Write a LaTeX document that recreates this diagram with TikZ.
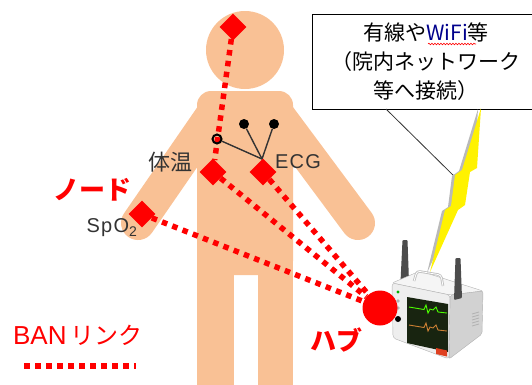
\documentclass[tikz,border=0pt]{standalone}
\usepackage{fontspec}
\setmainfont{Liberation Sans}
\newfontfamily\jpfont{Noto Sans CJK JP}
\usetikzlibrary{shapes.geometric}
\usetikzlibrary{decorations.pathmorphing}
\definecolor{skin}{RGB}{249,193,149}
\definecolor{scr}{RGB}{24,36,16}
\tikzset{
    sensor/.style = {diamond, fill=red, inner sep=0pt, minimum size=27pt},
    hubnode/.style = {circle, fill=red, inner sep=0pt, minimum size=35pt},
    banlink/.style = {red, line width=5.5pt, dash pattern=on 5.5pt off 5.5pt},
    lead/.style = {line width=1.4pt, black!80},
    electrode/.style = {circle, fill=black, inner sep=0pt, minimum size=10pt},
    electrodeo/.style = {circle, draw=black, line width=2pt, inner sep=0pt, minimum size=9pt},
    limb/.style = {skin, line width=34pt, line cap=round},
    lbl/.style = {text=black!80, font=\fontsize{20}{22}\selectfont\addfontfeature{LetterSpace=6}},
    jlbl/.style = {text=black!80, font=\jpfont\fontsize{22}{24}\selectfont},
    redlbl/.style = {text=red, font=\jpfont\bfseries\fontsize{26}{30}\selectfont},
    infobox/.style = {draw=black, line width=1.5pt, fill=white, minimum width=227pt, minimum height=95pt,
                      align=center, font=\jpfont\fontsize{21}{29}\selectfont},
    antenna/.style = {fill=black!70, rounded corners=1pt},
    face/.style = {draw=gray!60, rounded corners=2pt},
}

\begin{document}
\begin{tikzpicture}[x=1pt,y=-1pt]
\useasboundingbox (0,0) rectangle (532,384);
% body
\fill[skin] (245,50) circle (39);
\fill[skin, rounded corners=14pt] (197,91) rectangle (293,275);
\fill[skin] (197,200) rectangle (234,390);
\fill[skin] (258,200) rectangle (293,390);
\draw[limb] (216,110) -- (138,223);
\draw[limb] (274,110) -- (358,223);
%
% monitor
\fill[antenna] (400.5,282) -- (402.5,240) -- (407.5,240) -- (409,282) -- cycle;
\filldraw[face, fill=gray!8] (392,283) -- (420,271) -- (483,291) -- (450,295) -- cycle;
\filldraw[face, fill=gray!35] (450,295) -- (483,291) -- (482,334) -- (449,359) -- cycle;
\filldraw[face, fill=gray!13, rounded corners=3pt] (392,283) -- (450,295) -- (449,359) -- (393,338) -- cycle;
\draw[gray!50, line width=2.5pt, rounded corners=3pt] (414,281) -- (417,271) -- (441,275) -- (443,286);
\draw[white, line width=0.8pt, rounded corners=3pt] (414,281) -- (417,271) -- (441,275) -- (443,286);
\fill[antenna] (454,300) -- (455.5,258) -- (460.5,258) -- (462,298) -- cycle;
\fill[scr] (407,297) -- (448,304) -- (448,352) -- (407,343) -- cycle;
\draw[green!70!yellow, line width=0.9pt] (409,307) -- (424,309.5) -- (426,305) -- (428,313) -- (430,309)
    -- (433,310) -- (436,307) -- (438,312) -- (447,313);
\draw[brown!80!orange, line width=0.9pt] (409,325) -- (424,327.5) -- (426,323) -- (428,331) -- (430,327)
    -- (433,328) -- (436,325) -- (438,330) -- (447,331);
\fill[green!70!black] (398,292) circle (1.6);
\fill[gray!60] (398,301) circle (1.8);
\fill[gray!60] (398,308) circle (1.8);
\fill[black] (398,319) circle (3);
\fill[red!50!brown] (436,348) -- (447,350.5) -- (447,356.5) -- (436,354) -- cycle;
\foreach \k in {0,...,4}
    \draw[gray!60, line width=0.8pt] (472,{314+3*\k}) -- (479,{312+3*\k});
%
% sensors and hub
\node[sensor] at (233,27) (hd) {};
\node[sensor] at (213,172) (tmp) {};
\node[sensor] at (263,172) (ecg) {};
\node[sensor] at (142,214) (spo) {};
\node[hubnode] at (380,308) (hub) {};
\draw[banlink] (hd) -- (tmp);
\draw[banlink] (tmp) -- (hub);
\draw[banlink] (ecg) -- (hub);
\draw[banlink] (spo) -- (hub);
%
% ECG electrodes
\node[electrode] at (244,124) (e1) {};
\node[electrode] at (274,124) (e2) {};
\node[electrodeo] at (217,139) (e3) {};
\coordinate (jn) at (262,159);
\draw[lead] (e1) -- (jn);
\draw[lead] (e2) -- (jn);
\draw[lead] (e3) -- (jn);
%
% labels
\node[jlbl] at (170,162) (tl) {体温};
\node[lbl] at (298,162) (el) {ECG};
\node[lbl] at (112,228) (sl) {SpO\textsubscript{2}};
\node[redlbl] at (92,190) (nl) {ノード};
\node[redlbl] at (336,340) (hl) {ハブ};
\node[text=red, font=\fontsize{26}{30}\selectfont] at (78,335) (bl) {BAN\,{\jpfont\fontsize{24}{30}\selectfont リンク}};
\coordinate (la) at (24,366);
\coordinate (lb) at (136,366);
\draw[banlink] (la) -- (lb);
%
% uplink
\node[infobox] at (426,62) (box) {有線や{\color{blue!55!black}WiFi}等\\（院内ネットワーク\\等へ接続）};
\draw[red, line width=0.6pt, decorate, decoration={snake, amplitude=0.8pt, segment length=3pt}] (428,44) -- (476,44);
\coordinate (tail) at (386,109);
\coordinate (zap) at (457,179);
\draw[line width=0.8pt, black!80] (tail) -- (zap);
\fill[gray!55, shift={(-3,1)}] (481,108) -- (477,168) -- (470,172) -- (465,205) -- (458,210) -- (430,272)
    -- (445,210) -- (451,206) -- (455,175) -- (462,170) -- cycle;
\fill[yellow] (481,108) -- (477,168) -- (470,172) -- (465,205) -- (458,210) -- (430,272)
    -- (445,210) -- (451,206) -- (455,175) -- (462,170) -- cycle;
\end{tikzpicture}
\end{document}
